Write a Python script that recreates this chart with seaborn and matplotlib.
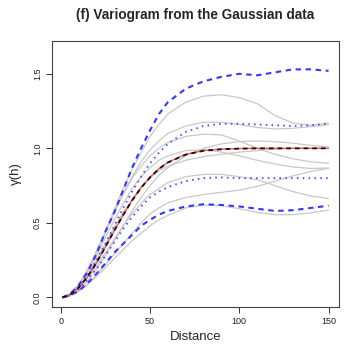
import matplotlib
matplotlib.use("Agg")
import matplotlib.pyplot as plt
import seaborn as sns

dist = [1, 5, 10, 15, 20, 25, 30, 35, 40, 45, 50, 55, 60, 70, 80, 90, 100, 110, 120, 130, 140, 150]

# simulated variograms (gray)
sim_1 = [0, 0.021, 0.083, 0.18, 0.30, 0.44, 0.59, 0.73, 0.86, 0.97, 1.08, 1.16, 1.23, 1.31, 1.35, 1.36, 1.34, 1.30, 1.22, 1.17, 1.155, 1.17]
sim_2 = [0, 0.021, 0.083, 0.18, 0.30, 0.43, 0.57, 0.70, 0.81, 0.91, 0.99, 1.05, 1.10, 1.15, 1.175, 1.175, 1.16, 1.14, 1.13, 1.135, 1.145, 1.16]
sim_3 = [0, 0.022, 0.085, 0.185, 0.31, 0.44, 0.57, 0.69, 0.80, 0.88, 0.95, 1.00, 1.04, 1.08, 1.095, 1.09, 1.05, 1.00, 0.96, 0.93, 0.91, 0.90]
sim_4 = [0, 0.013, 0.05, 0.11, 0.19, 0.28, 0.38, 0.48, 0.58, 0.67, 0.75, 0.82, 0.87, 0.95, 1.00, 1.03, 1.045, 1.05, 1.045, 1.035, 1.02, 1.01]
sim_5 = [0, 0.018, 0.07, 0.15, 0.25, 0.36, 0.47, 0.57, 0.66, 0.74, 0.80, 0.85, 0.88, 0.92, 0.945, 0.96, 0.975, 0.985, 0.995, 1.0, 1.0, 1.0]
sim_6 = [0, 0.02, 0.08, 0.17, 0.28, 0.40, 0.52, 0.63, 0.73, 0.81, 0.87, 0.92, 0.95, 0.985, 0.99, 0.975, 0.95, 0.92, 0.895, 0.875, 0.865, 0.868]
sim_7 = [0, 0.015, 0.06, 0.13, 0.21, 0.30, 0.39, 0.48, 0.56, 0.63, 0.69, 0.73, 0.77, 0.81, 0.825, 0.825, 0.81, 0.79, 0.75, 0.71, 0.68, 0.664]
sim_8 = [0, 0.01, 0.04, 0.09, 0.15, 0.22, 0.29, 0.36, 0.43, 0.50, 0.56, 0.60, 0.635, 0.67, 0.69, 0.705, 0.72, 0.745, 0.78, 0.815, 0.845, 0.866]
sim_9 = [0, 0.01, 0.04, 0.085, 0.14, 0.20, 0.26, 0.32, 0.38, 0.43, 0.48, 0.52, 0.55, 0.60, 0.62, 0.615, 0.595, 0.57, 0.555, 0.555, 0.567, 0.586]

# envelopes (blue)
upper_95 = [0, 0.02, 0.08, 0.17, 0.29, 0.44, 0.57, 0.72, 0.87, 1.00, 1.12, 1.23, 1.31, 1.40, 1.45, 1.48, 1.50, 1.49, 1.51, 1.53, 1.53, 1.52]
lower_95 = [0, 0.011, 0.043, 0.095, 0.158, 0.228, 0.30, 0.36, 0.42, 0.48, 0.52, 0.555, 0.58, 0.61, 0.625, 0.62, 0.61, 0.595, 0.58, 0.585, 0.60, 0.615]
upper_q = [0, 0.017, 0.068, 0.145, 0.25, 0.36, 0.48, 0.60, 0.71, 0.81, 0.90, 0.97, 1.03, 1.11, 1.15, 1.165, 1.165, 1.16, 1.155, 1.15, 1.155, 1.165]
lower_q = [0, 0.014, 0.054, 0.12, 0.19, 0.28, 0.37, 0.46, 0.54, 0.61, 0.67, 0.71, 0.74, 0.78, 0.80, 0.805, 0.80, 0.80, 0.80, 0.80, 0.80, 0.80]

# true model (red) and mean of simulations (black)
model = [0, 0.016, 0.064, 0.137, 0.231, 0.337, 0.447, 0.553, 0.651, 0.736, 0.807, 0.863, 0.906, 0.960, 0.985, 0.995, 0.999, 1.0, 1.0, 1.0, 1.0, 1.0]
mean_sim = [0, 0.016, 0.065, 0.138, 0.232, 0.338, 0.448, 0.553, 0.650, 0.735, 0.805, 0.862, 0.905, 0.958, 0.984, 0.994, 0.998, 1.0, 1.0, 1.0, 1.0, 1.0]

sns.set_theme(style="ticks")
plt.rcParams["font.family"] = ["Liberation Sans", "DejaVu Sans"]

fig = plt.figure(figsize=(3.6, 3.6), dpi=100)
ax = fig.add_axes([0.144, 0.147, 0.798, 0.739])

for sim in [sim_1, sim_2, sim_3, sim_4, sim_5, sim_6, sim_7, sim_8, sim_9]:
    sns.lineplot(x=dist, y=sim, ax=ax, color="#c8c8c8", linewidth=0.9)

for env in [upper_95, lower_95]:
    sns.lineplot(x=dist, y=env, ax=ax, color="#3636ff", linewidth=1.5,
                 linestyle=(0, (2.6, 2.2)))
for env in [upper_q, lower_q]:
    sns.lineplot(x=dist, y=env, ax=ax, color="#5050ff", linewidth=1.4,
                 linestyle=(0, (0.8, 2.2)))

sns.lineplot(x=dist, y=model, ax=ax, color="#ff5050", linewidth=1.0)
sns.lineplot(x=dist, y=mean_sim, ax=ax, color="#111111", linewidth=1.3,
             linestyle=(0, (2.6, 2.2)))

ax.set_xlim(-4.96, 155.9)
ax.set_ylim(-0.065, 1.72)
ax.set_xticks([0, 50, 100, 150])
ax.set_yticks([0.0, 0.5, 1.0, 1.5])
ax.set_yticklabels(["0.0", "0.5", "1.0", "1.5"], rotation=90, va="center")
ax.tick_params(axis="both", labelsize=6.5, length=4, width=0.7, color="#333333",
               labelcolor="#222222", pad=3)

for side in ["top", "right", "bottom", "left"]:
    ax.spines[side].set_visible(True)
    ax.spines[side].set_color("#444444")
    ax.spines[side].set_linewidth(0.8)

ax.set_xlabel("Distance", fontsize=9.5, labelpad=4)
ax.set_ylabel("γ(h)", fontsize=9.5, labelpad=8)
ax.set_title("(f) Variogram from the Gaussian data", fontsize=9.8, fontweight="bold", pad=16)

plt.savefig("out.png", dpi=100)
plt.close()
